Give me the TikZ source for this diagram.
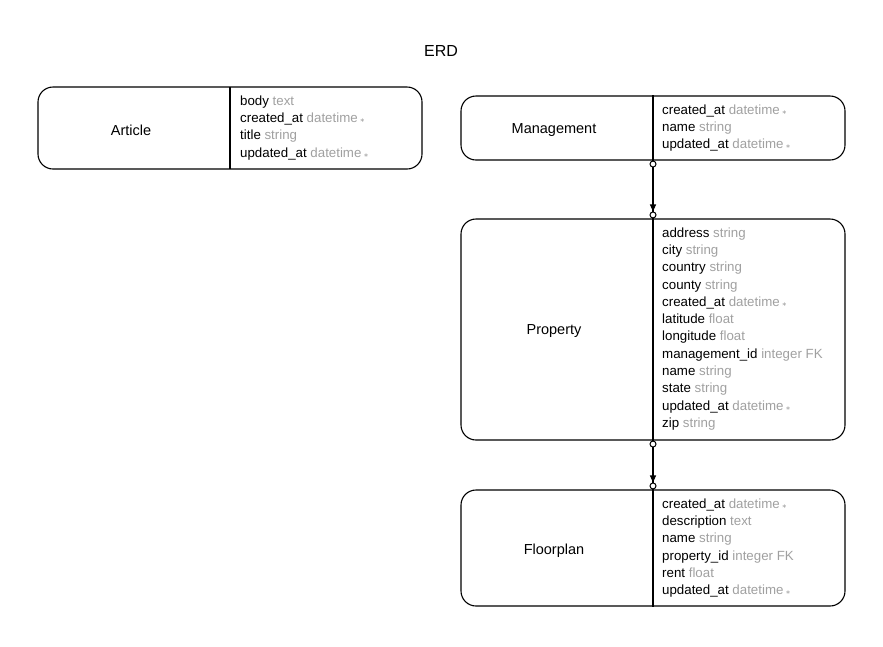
\documentclass[tikz,border=0pt]{standalone}
\usepackage{fontspec}
\setmainfont{Liberation Sans}
\newfontfamily\symfont{DejaVu Sans}
\usetikzlibrary{arrows.meta}
\definecolor{attrgray}{HTML}{A0A0A0}
\newcommand{\ty}[1]{\textcolor{attrgray}{#1}}
\newcommand{\nn}{\textcolor{attrgray}{\,{\symfont\fontsize{6}{6}\selectfont ∗}}}
\begin{document}
\begin{tikzpicture}[x=1pt,y=-1pt,
  entbox/.style={draw, line width=1.1pt, rounded corners=15pt, minimum width=384pt, inner sep=0pt},
  divline/.style={line width=1.1pt},
  ename/.style={font=\fontsize{14.5}{16}\selectfont},
  attrs/.style={anchor=north west, align=left, inner sep=0pt, font=\fontsize{13.3}{17.27}\selectfont},
  rel/.style={line width=1.1pt, {Circle[open,length=7pt,width=7pt,line width=1pt]}-{Triangle[length=7pt,width=6pt] Circle[open,length=7pt,width=7pt,line width=1pt]}}
]
\useasboundingbox (0,0) rectangle (883,646);
\node[font=\fontsize{16}{18}\selectfont] (title) at (441,51) {ERD};

% Article
\node[entbox, minimum height=82pt] (article) at (230,128) {};
\draw[divline] (230,87) -- (230,169);
\node[ename] (articlename) at (131,130.5) {Article};
\node[attrs] (articleattrs) at (240,95.5) {body \ty{text}\\created\_at \ty{datetime}\nn\\title \ty{string}\\updated\_at \ty{datetime}\nn};

% Management
\node[entbox, minimum height=64pt] (management) at (653,128) {};
\draw[divline] (management.north) -- (management.south);
\node[ename] (managementname) at (554,130.5) {Management};
\node[attrs] (managementattrs) at (662,104.5) {created\_at \ty{datetime}\nn\\name \ty{string}\\updated\_at \ty{datetime}\nn};

% Property
\node[entbox, minimum height=221pt] (property) at (653,329.5) {};
\draw[divline] (property.north) -- (property.south);
\node[ename] (propertyname) at (554,331.5) {Property};
\node[attrs] (propertyattrs) at (662,227.5) {address \ty{string}\\city \ty{string}\\country \ty{string}\\county \ty{string}\\created\_at \ty{datetime}\nn\\latitude \ty{float}\\longitude \ty{float}\\management\_id \ty{integer FK}\\name \ty{string}\\state \ty{string}\\updated\_at \ty{datetime}\nn\\zip \ty{string}};

% Floorplan
\node[entbox, minimum height=116pt] (floorplan) at (653,548) {};
\draw[divline] (floorplan.north) -- (floorplan.south);
\node[ename] (floorplanname) at (554,550.5) {Floorplan};
\node[attrs] (floorplanattrs) at (662,498.5) {created\_at \ty{datetime}\nn\\description \ty{text}\\name \ty{string}\\property\_id \ty{integer FK}\\rent \ty{float}\\updated\_at \ty{datetime}\nn};

% Relationships
\draw[rel] (management.south) -- (property.north);
\draw[rel] (property.south) -- (floorplan.north);
\end{tikzpicture}
\end{document}
